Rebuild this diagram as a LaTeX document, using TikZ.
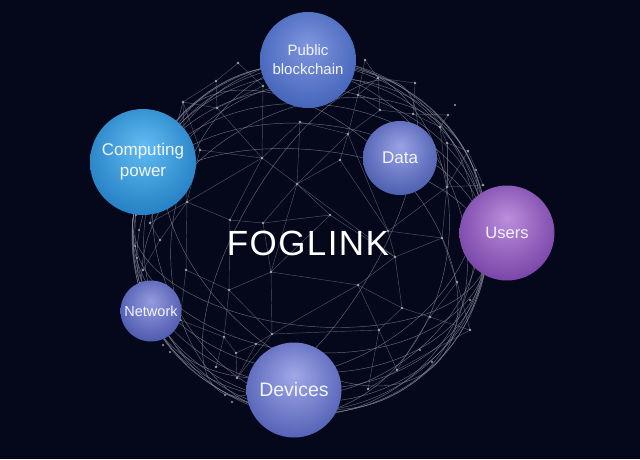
\documentclass[tikz,border=0pt]{standalone}
\usepackage{fontspec}
\setmainfont{Liberation Sans}
\usetikzlibrary{calc}
\definecolor{bg}{HTML}{05081A}
\definecolor{meshc}{HTML}{8A8F9C}
\definecolor{dotc}{HTML}{A8ADB8}
\definecolor{txt}{HTML}{F2F5FF}
\definecolor{pubin}{HTML}{8096DE}\definecolor{pubout}{HTML}{3A5CB4}
\definecolor{cpin}{HTML}{62BDF2}\definecolor{cpout}{HTML}{1A74BC}
\definecolor{datin}{HTML}{9AA2E4}\definecolor{datout}{HTML}{3E52A6}
\definecolor{usein}{HTML}{BC8EDC}\definecolor{useout}{HTML}{6C389E}
\definecolor{netin}{HTML}{959BDE}\definecolor{netout}{HTML}{404EA6}
\definecolor{devin}{HTML}{A2A8E8}\definecolor{devout}{HTML}{4656AE}
\pgfdeclareradialshading{pubshade}{\pgfpoint{0bp}{8bp}}{color(0bp)=(pubin); color(34bp)=(pubout); color(50bp)=(pubout)}
\pgfdeclareradialshading{cpshade}{\pgfpoint{0bp}{8bp}}{color(0bp)=(cpin); color(34bp)=(cpout); color(50bp)=(cpout)}
\pgfdeclareradialshading{datshade}{\pgfpoint{0bp}{8bp}}{color(0bp)=(datin); color(34bp)=(datout); color(50bp)=(datout)}
\pgfdeclareradialshading{useshade}{\pgfpoint{0bp}{8bp}}{color(0bp)=(usein); color(34bp)=(useout); color(50bp)=(useout)}
\pgfdeclareradialshading{netshade}{\pgfpoint{0bp}{8bp}}{color(0bp)=(netin); color(34bp)=(netout); color(50bp)=(netout)}
\pgfdeclareradialshading{devshade}{\pgfpoint{0bp}{8bp}}{color(0bp)=(devin); color(34bp)=(devout); color(50bp)=(devout)}
\tikzset{
  mesh/.style={draw=meshc, line width=0.45pt, opacity=0.55},
  rim/.style={draw=meshc, line width=0.45pt, opacity=0.7},
  dotmark/.style={fill=dotc, opacity=0.9},
  bubble/.style={circle, inner sep=0pt, text=txt, align=center},
}
\begin{document}
\begin{tikzpicture}[x=1pt,y=-1pt]
\fill[bg] (0,0) rectangle (640,459);
\useasboundingbox (0,0) rectangle (640,459);
\coordinate (O) at (310,238);
% globe arcs
\foreach \ang/\b in {-6/176, -6/164, -6/150, -6/134, -6/114, -6/88,
  28/172, 28/154, 28/128, 80/166, 80/138, -45/172, -45/110, 60/70, 120/150}
  \draw[rim, rotate around={\ang:(O)}] (O) ellipse [x radius=178, y radius=\b];
% mesh points
\foreach \n/\x/\y in {va/238/63, vb/263/86, vc/216/81, vd/183/102, ve/217/108, vf/365/60, vg/378/78,
  vh/415/83, vi/358/95, vj/380/110, vk/413/114, vl/448/115, vm/440/127, vn/348/134, vo/262/158,
  vp/297/184, vq/187/202, vr/230/220, vs/263/223, vt/447/143, vu/468/151, vv/483/185, vw/447/187,
  vx/186/270, vy/229/290, vz/271/272, vA/358/285, vB/395/257, vC/442/238, vD/388/231, vE/402/308,
  vF/457/282, vG/272/334, vH/224/337, vI/256/344, vJ/236/353, vK/379/330, vL/430/317, vM/397/370,
  vN/368/389, vO/216/367, vP/237/378, vQ/160/240, vR/150/223, vS/143/270, vT/340/160, vU/300/122,
  vV/470/330, vW/180/320, vX/200/150, vY/330/215}
  \coordinate (\n) at (\x,\y);
\foreach \p/\q in {vo/vb, vo/vp, vo/vr, vo/vq, vo/ve, vp/vn, vp/vs, vp/vB, vp/vz, vn/vi, vn/vj, vn/vD,
  vD/vB, vD/vC, vB/vC, vB/vA, vB/vE, vA/vz, vA/vE, vA/vK, vA/vG, vz/vs, vz/vy, vz/vG, vs/vr, vr/vq,
  vr/vy, vq/vx, vq/vQ, vx/vy, vy/vH, vy/vG, vG/vI, vG/vK, vH/vJ, vH/vO, vI/vJ, vJ/vP, vI/vP,
  vK/vE, vK/vM, vK/vN, vE/vL, vL/vF, vF/vC, vC/vw, vw/vv, vw/vt, vt/vu, vu/vv, vt/vm, vm/vl, vl/vk,
  vk/vj, vj/vg, vg/vh, vh/vk, vi/vg, vi/vf, vf/vg, vj/vi, vk/vm, vw/vD, vq/vd, vQ/vR, vR/vq, vS/vQ,
  vM/vL, vN/vM, vP/vG, vc/ve, vd/ve, ve/vb, vb/va, va/vc, vc/vd, vd/vR, vT/vn, vT/vp, vT/vD, vU/vo,
  vU/vp, vU/vn, vV/vF, vV/vL, vV/vM, vW/vx, vW/vH, vX/vd, vX/vo, vX/vq, vY/vp, vY/vB, vY/vz,
  vY/vs, vm/vw, vu/vw}
  \draw[mesh] (\p) -- (\q);
\foreach \n in {va,vb,vc,vd,ve,vf,vg,vh,vi,vj,vk,vl,vm,vn,vo,vp,vq,vr,vs,vt,vu,vv,vw,vx,vy,vz,
  vA,vB,vC,vD,vE,vF,vG,vH,vI,vJ,vK,vL,vM,vN,vO,vP,vQ,vR,vS,vT,vU,vV,vW,vX,vY}
  \fill[dotmark] (\n) circle (1.4);
\foreach \x/\y in {136/215, 139/230, 135/246, 137/258, 140/283, 145/295, 150/205, 143/206, 163/345,
  170/352, 225/395, 232/402, 420/350, 432/362, 470/300, 478/262, 485/205, 476/170, 455/105}
  \fill[dotmark] (\x,\y) circle (1.2);
% title
\node[text=white, font=\fontsize{35}{40}\selectfont\addfontfeature{LetterSpace=4}] (title) at (308,243) {FOGLINK};
% bubbles
\node[bubble, minimum size=96, shading=pubshade, font=\fontsize{15}{19}\selectfont] (pub) at (308,60) {Public\\blockchain};
\node[bubble, minimum size=106, shading=cpshade, font=\fontsize{17}{21}\selectfont] (cp) at (143,162) {Computing\\power};
\node[bubble, minimum size=74, shading=datshade, font=\fontsize{17}{20}\selectfont] (dat) at (400,158) {Data};
\node[bubble, minimum size=95, shading=useshade, font=\fontsize{16.5}{20}\selectfont] (use) at (507,233) {Users};
\node[bubble, minimum size=61, shading=netshade, font=\fontsize{14.5}{18}\selectfont] (net) at (151,311) {Network};
\node[bubble, minimum size=95, shading=devshade, font=\fontsize{19.5}{23}\selectfont] (dev) at (294,390) {Devices};
\end{tikzpicture}
\end{document}
